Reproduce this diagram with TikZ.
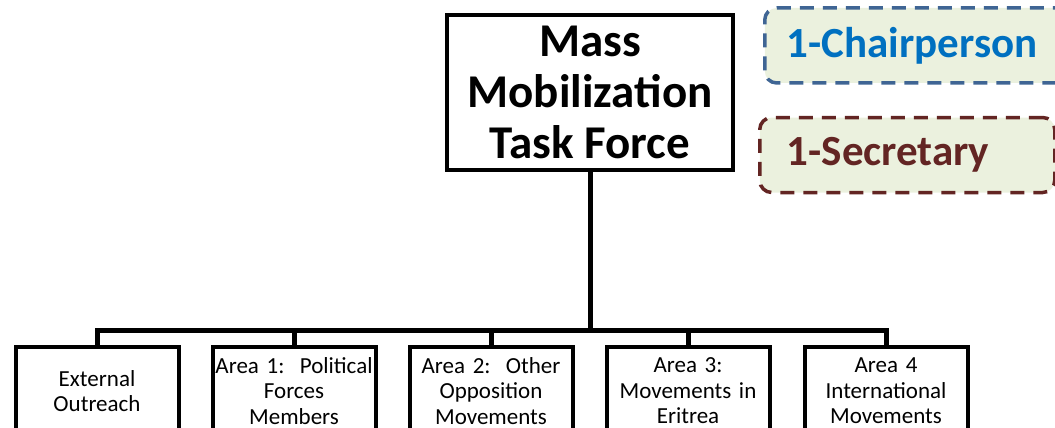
\documentclass[tikz,border=0pt]{standalone}
\usepackage{fontspec}
\setmainfont{Carlito}
\frenchspacing
\usetikzlibrary{positioning}
\definecolor{notefill}{HTML}{EBF1DE}
\definecolor{chairline}{HTML}{3F6594}
\definecolor{chairtext}{HTML}{0070C0}
\definecolor{secline}{HTML}{632523}
\tikzstyle{taskbox}=[draw,line width=4pt,minimum width=286pt,minimum height=155pt,inner sep=0pt,align=center,font=\bfseries\fontsize{47}{51}\selectfont]
\tikzstyle{areabox}=[draw,line width=4pt,minimum width=163pt,minimum height=88pt,inner sep=0pt,text width=160pt,align=center,font=\fontsize{23}{25.5}\selectfont]
\tikzstyle{notebox}=[draw,dash pattern=on 14pt off 9pt,line width=3.5pt,rounded corners=12pt,fill=notefill,anchor=west,minimum height=75pt,align=left,font=\bfseries\fontsize{43}{48}\selectfont]
\tikzstyle{bus}=[draw,line width=5pt]

\begin{document}
\begin{tikzpicture}[x=1pt,y=-1pt]
    \useasboundingbox (0,0) rectangle (1055,428);

    % top box and the two notes
    \node[taskbox] (task) at (590,92.5) {Mass\\Mobilization\\Task Force};
    \node[notebox,draw=chairline,text=chairtext,inner xsep=22pt,text width=270pt] (chair) at (763,45.5) {1-Chairperson};
    \node[notebox,draw=secline,text=secline,inner xsep=27pt,text width=241pt] (secr) at (758,155) {1-Secretary};

    % the areas
    \coordinate (hub) at (590,330);
    \foreach \x/\name/\txt in {97/ext/{External\\Outreach}, 294/area1/{Area 1:~ Political\\Forces\\Members}, 491/area2/{Area 2:~ Other\\Opposition\\Movements}, 688/area3/{Area 3:\\Movements in\\Eritrea}, 886/area4/{Area 4\\International\\Movements}}
        \node[areabox] (\name) at (\x,391) {\txt};

    % connect them
    \path[bus] (task.south) -- (hub);
    \foreach \name in {ext,area1,area2,area3,area4}
        \path[bus] (\name.north) |- (hub);
\end{tikzpicture}
\end{document}
